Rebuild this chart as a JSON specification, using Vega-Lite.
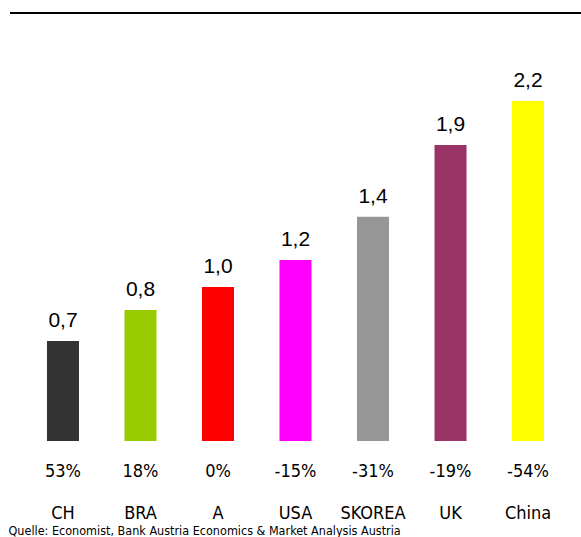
{
  "$schema": "https://vega.github.io/schema/vega-lite/v6.json",
  "autosize": {"type": "none"},
  "padding": {"left": 10, "top": 13, "right": 0, "bottom": 96},
  "width": 571,
  "height": 428,
  "background": "white",
  "config": {"view": {"stroke": null}},
  "data": {
    "values": [
      {"country": "CH", "value": 0.645, "label": "0,7", "pct": "53%"},
      {"country": "BRA", "value": 0.845, "label": "0,8", "pct": "18%"},
      {"country": "A", "value": 0.994, "label": "1,0", "pct": "0%"},
      {"country": "USA", "value": 1.168, "label": "1,2", "pct": "-15%"},
      {"country": "SKOREA", "value": 1.447, "label": "1,4", "pct": "-31%"},
      {"country": "UK", "value": 1.91, "label": "1,9", "pct": "-19%"},
      {"country": "China", "value": 2.194, "label": "2,2", "pct": "-54%"}
    ]
  },
  "layer": [
    {
      "mark": {"type": "bar"},
      "encoding": {
        "x": {
          "field": "country",
          "type": "nominal",
          "sort": null,
          "scale": {"paddingInner": 0.587, "paddingOuter": 0.477},
          "axis": {
            "title": "Quelle: Economist, Bank Austria Economics & Market Analysis Austria",
            "titleFont": "DejaVu Sans Condensed",
            "titleFontSize": 12.5,
            "titleFontWeight": "normal",
            "titleColor": "#000000",
            "titleAnchor": "start",
            "titleAlign": "left",
            "titleBaseline": "alphabetic",
            "titleX": -2,
            "titleY": 93,
            "labelAngle": 0,
            "labelFont": "DejaVu Sans Condensed",
            "labelFontSize": 18,
            "labelColor": "#000000",
            "labelBaseline": "middle",
            "labelPadding": 72,
            "ticks": false,
            "domain": false,
            "grid": false
          }
        },
        "y": {
          "field": "value",
          "type": "quantitative",
          "scale": {"domain": [0, 2.761], "nice": false, "zero": true},
          "axis": null
        },
        "color": {
          "field": "country",
          "type": "nominal",
          "scale": {
            "domain": ["CH", "BRA", "A", "USA", "SKOREA", "UK", "China"],
            "range": ["#333333", "#99CC00", "#FF0000", "#FF00FF", "#969696", "#993366", "#FFFF00"]
          },
          "legend": null
        }
      }
    },
    {
      "mark": {"type": "text", "baseline": "alphabetic", "dy": -14, "font": "Liberation Sans", "fontSize": 21, "color": "#000000"},
      "encoding": {
        "x": {"field": "country", "type": "nominal", "sort": null},
        "y": {"field": "value", "type": "quantitative"},
        "text": {"field": "label"}
      }
    },
    {
      "mark": {"type": "text", "baseline": "middle", "dy": 31, "font": "DejaVu Sans Condensed", "fontSize": 18, "color": "#000000"},
      "encoding": {
        "x": {"field": "country", "type": "nominal", "sort": null},
        "y": {"datum": 0},
        "text": {"field": "pct"}
      }
    },
    {
      "mark": {"type": "rule", "color": "#000000", "strokeWidth": 1},
      "encoding": {
        "y": {"datum": 2.761}
      }
    }
  ]
}
